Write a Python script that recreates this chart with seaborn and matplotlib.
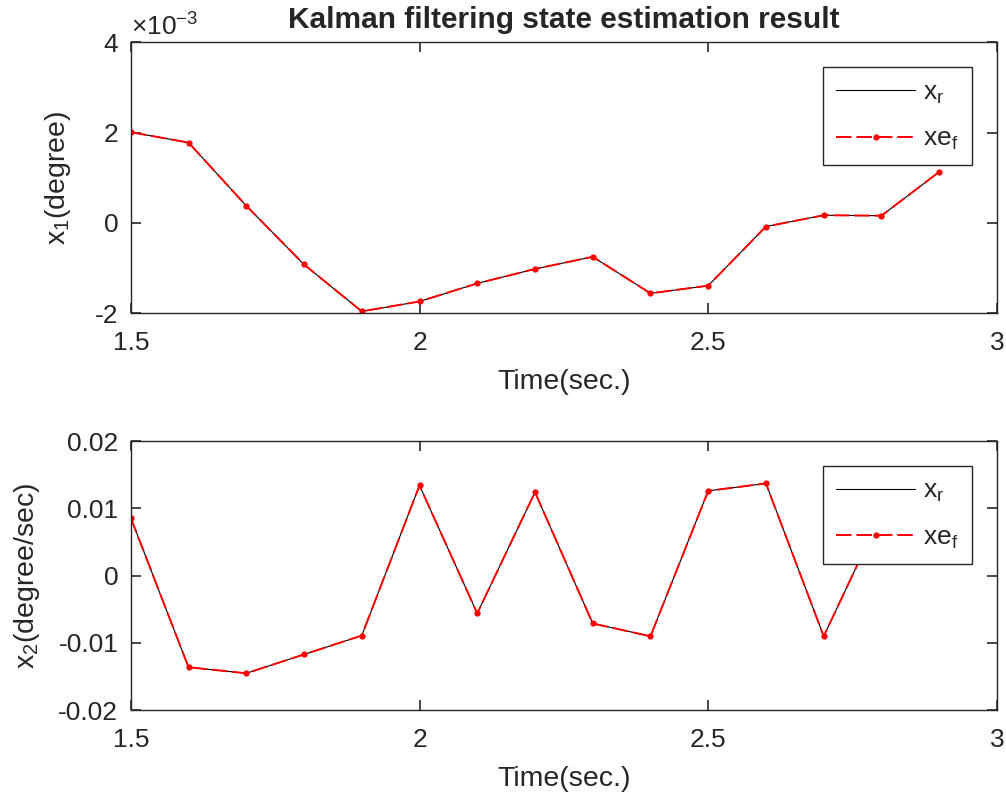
import numpy as np
import pandas as pd
import matplotlib
matplotlib.use("Agg")
import matplotlib.pyplot as plt
import matplotlib.ticker as mticker
import seaborn as sns

# time axis (sec.)
t = [1.5, 1.6, 1.7, 1.8, 1.9, 2.0, 2.1, 2.2, 2.3, 2.4, 2.5, 2.6, 2.7, 2.8, 2.9]

# state 1 (degree) - real and filtered estimate
x1_real = [2.01e-3, 1.78e-3, 0.38e-3, -0.92e-3, -1.96e-3, -1.74e-3, -1.34e-3, -1.02e-3,
           -0.75e-3, -1.56e-3, -1.39e-3, -0.08e-3, 0.17e-3, 0.16e-3, 1.13e-3]
x1_est = [2.01e-3, 1.78e-3, 0.38e-3, -0.92e-3, -1.96e-3, -1.74e-3, -1.34e-3, -1.02e-3,
          -0.75e-3, -1.56e-3, -1.39e-3, -0.08e-3, 0.17e-3, 0.16e-3, 1.13e-3]

# state 2 (degree/sec) - real and filtered estimate
x2_real = [0.0086, -0.0136, -0.0145, -0.0117, -0.0089, 0.0134, -0.0056, 0.0124,
           -0.0071, -0.0090, 0.0126, 0.0137, -0.0090, 0.0092, 0.0110]
x2_est = [0.0086, -0.0136, -0.0145, -0.0117, -0.0089, 0.0134, -0.0056, 0.0124,
          -0.0071, -0.0090, 0.0126, 0.0137, -0.0090, 0.0092, 0.0110]

sns.set_style("ticks")
plt.rcParams['font.family'] = ['Liberation Sans', 'DejaVu Sans']
plt.rcParams['mathtext.fontset'] = 'custom'
plt.rcParams['mathtext.rm'] = 'Liberation Sans'
plt.rcParams['mathtext.it'] = 'Liberation Sans'
plt.rcParams['axes.unicode_minus'] = False

fig = plt.figure(figsize=(10.06, 7.99), dpi=100)
ax1 = fig.add_axes([0.130, 0.608, 0.861, 0.339])
ax2 = fig.add_axes([0.130, 0.111, 0.861, 0.337])

dark = '#262626'


def draw(ax, real, est, ylabel, ylim, yticks, ypad):
    df = pd.DataFrame({'t': t, 'real': real, 'est': est})
    sns.lineplot(data=df, x='t', y='real', ax=ax, color='black', linewidth=0.8,
                 label=r'x$_\mathrm{r}$')
    sns.lineplot(data=df, x='t', y='est', ax=ax, color='red', linewidth=1.4,
                 dashes=False, linestyle=(0, (8, 2.5)), marker='o', markersize=4.5,
                 markeredgewidth=0, label=r'xe$_\mathrm{f}$')
    ax.set_xlim(1.5, 3)
    ax.set_xticks([1.5, 2, 2.5, 3])
    ax.xaxis.set_major_formatter(mticker.FormatStrFormatter('%g'))
    ax.set_ylim(*ylim)
    ax.set_yticks(yticks)
    ax.set_xlabel('Time(sec.)', fontsize=20.5, color=dark, labelpad=10)
    ax.set_ylabel(ylabel, fontsize=20.5, color=dark, labelpad=ypad)
    ax.tick_params(direction='in', length=7, width=1.2, top=True, right=True,
                   labelsize=19, colors=dark)
    ax.tick_params(axis='x', pad=13)
    ax.tick_params(axis='y', pad=9)
    for s in ax.spines.values():
        s.set_color(dark)
        s.set_linewidth(1.0)
    leg = ax.legend(loc='upper right', bbox_to_anchor=(0.971, 0.908), fontsize=19,
                    handlelength=3.0, frameon=True, fancybox=False, framealpha=1,
                    edgecolor=dark, borderpad=0.5, labelspacing=0.8,
                    handletextpad=0.3, borderaxespad=0)
    leg.get_frame().set_linewidth(1.0)


draw(ax1, x1_real, x1_est, r'x$_1$(degree)', (-2e-3, 4e-3), [-2e-3, 0, 2e-3, 4e-3], 16)
draw(ax2, x2_real, x2_est, r'x$_2$(degree/sec)', (-0.02, 0.02),
     [-0.02, -0.01, 0, 0.01, 0.02], 12)

ax1.yaxis.set_major_formatter(mticker.FuncFormatter(lambda v, p: '%g' % round(v * 1e3, 6)))
ax2.yaxis.set_major_formatter(mticker.FormatStrFormatter('%g'))
ax1.text(0.0, 1.005, r'$\times10^{-3}$', transform=ax1.transAxes, fontsize=19,
         color=dark, ha='left', va='bottom')

ax1.set_title('Kalman filtering state estimation result', fontsize=21.5,
              fontweight='bold', pad=10)

fig.savefig('out.png', dpi=100)
